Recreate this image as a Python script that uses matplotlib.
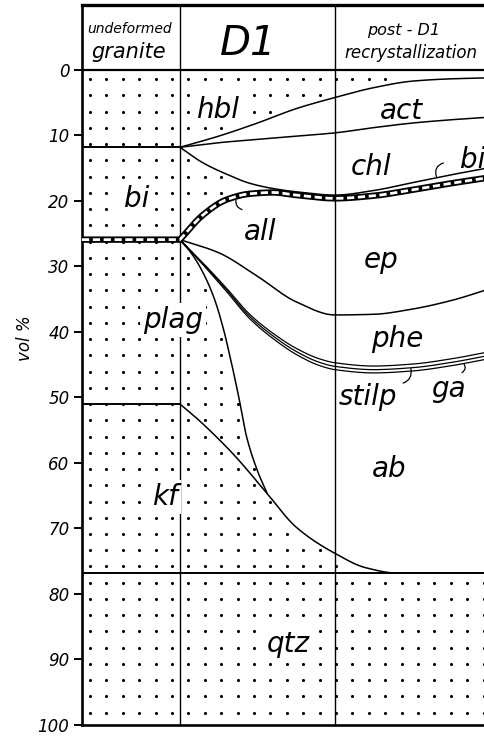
import numpy as np
import matplotlib.pyplot as plt

# granite column: cumulative mineral boundaries (vol %)
granite_bounds = [11.8, 25.9, 51.0, 76.8]

# D1 + post-D1 boundaries, x = stage (0 = end of granite, 1 = end of D1)
s_act = [0, 0.25, 0.5, 0.75, 1.0, 1.25, 1.5, 1.75, 2.0]
act_top = [11.8, 10.1, 8.1, 5.9, 4.2, 2.7, 1.7, 1.35, 1.2]
act_bottom = [11.8, 11.1, 10.6, 10.1, 9.6, 8.8, 8.1, 7.6, 7.2]

s_chl = [0, 0.15, 0.3, 0.45, 0.6, 0.75, 1.0, 1.25, 1.5, 1.75, 2.0]
chl_bottom = [11.8, 14.2, 15.9, 17.3, 18.1, 18.6, 19.1, 18.4, 17.2, 16.0, 14.9]
all_line = [25.9, 22.1, 19.8, 18.9, 18.7, 19.1, 19.6, 19.2, 18.3, 17.3, 16.4]

s_ep = [0, 0.25, 0.5, 0.75, 1.0, 1.25, 1.5, 1.75, 2.0]
ep_bottom = [25.9, 27.9, 31.5, 35.4, 37.4, 37.3, 36.5, 35.2, 33.4]

s_phe = [0, 0.15, 0.3, 0.45, 0.6, 0.75, 0.9, 1.0, 1.25, 1.5, 1.75, 2.0]
phe_bottom = [25.9, 29.5, 33.3, 37.3, 40.2, 42.5, 44.1, 44.7, 45.2, 44.9, 44.1, 43.0]

s_thin = [0, 0.3, 0.6, 1.0, 2.0]
stilp_w = [0, 0.25, 0.4, 0.55, 0.55]
ga_w = [0, 0.25, 0.4, 0.5, 0.5]

s_plag = [0, 0.08, 0.15, 0.22, 0.28, 0.33, 0.38, 0.43, 0.5, 0.56]
plag_edge = [25.9, 28.2, 31.0, 34.8, 39.5, 44.5, 50.0, 56.0, 61.2, 64.5]

s_kf = [0, 0.1, 0.2, 0.35, 0.55, 0.75, 1.0, 1.2, 1.4, 1.7, 2.0]
kf_edge = [51.0, 53.0, 55.2, 58.8, 64.3, 69.8, 73.8, 76.0, 76.8, 76.8, 76.8]

ticks = [0, 10, 20, 30, 40, 50, 60, 70, 80, 90, 100]

X0, X1 = -0.632, 1.968   # left axis / right cut of the figure
TOP = -9.92


def pchip(x, y, xn):
    x = np.asarray(x, float)
    y = np.asarray(y, float)
    h = np.diff(x)
    d = np.diff(y) / h
    m = np.zeros_like(y)
    m[0], m[-1] = d[0], d[-1]
    for k in range(1, len(x) - 1):
        if d[k - 1] * d[k] > 0:
            w1 = 2 * h[k] + h[k - 1]
            w2 = h[k] + 2 * h[k - 1]
            m[k] = (w1 + w2) / (w1 / d[k - 1] + w2 / d[k])
    xn = np.clip(np.asarray(xn, float), x[0], x[-1])
    i = np.clip(np.searchsorted(x, xn) - 1, 0, len(x) - 2)
    t = (xn - x[i]) / h[i]
    h00 = 2 * t**3 - 3 * t**2 + 1
    h10 = t**3 - 2 * t**2 + t
    h01 = -2 * t**3 + 3 * t**2
    h11 = t**3 - t**2
    return h00 * y[i] + h10 * h[i] * m[i] + h01 * y[i + 1] + h11 * h[i] * m[i + 1]


fig = plt.figure(figsize=(4.85, 7.36), dpi=100)
ax = fig.add_axes([82 / 485, 11 / 736, 403 / 485, 720 / 736])
ax.set_xlim(X0, X1)
ax.set_ylim(100, TOP)

FONT = dict(family="DejaVu Sans", style="oblique", color="black")
LW = 1.1

# ---- stipple: minerals of the granite still present ----
gx, gy = np.meshgrid(np.arange(-0.58, X1, 0.1058), np.arange(1.4, 100, 2.48))
gx, gy = gx.ravel(), gy.ravel()
sx = np.clip(gx, 0, 2)
keep = gx < 0
keep |= gy < pchip(s_act, act_top, sx) - 0.5
keep |= (gy > pchip(s_chl, chl_bottom, sx) + 0.6) & (gy < pchip(s_chl, all_line, sx) - 0.9)
plag_y = np.where(sx <= s_plag[-1], pchip(s_plag, plag_edge, sx), 200)
keep |= (gy > granite_bounds[1] + 0.6) & (gy > plag_y + 0.6) & (gy < pchip(s_kf, kf_edge, sx) - 0.6)
keep |= gy > pchip(s_kf, kf_edge, sx) + 0.6
keep &= gx > X0 + 0.04
ax.scatter(gx[keep], gy[keep], s=5, color="black", linewidths=0, zorder=2)

# ---- granite column boundaries ----
for b in (granite_bounds[0], granite_bounds[2]):
    ax.plot([X0, 0], [b, b], color="black", lw=1.4, zorder=4)
ax.plot([X0, X1], [granite_bounds[3], granite_bounds[3]], color="black", lw=1.4, zorder=4)

# ---- curves ----
ss = np.linspace(0, 2, 400)
ax.plot(ss, pchip(s_act, act_top, ss), color="black", lw=LW, zorder=4)
ax.plot(ss, pchip(s_act, act_bottom, ss), color="black", lw=LW, zorder=4)
ax.plot(ss, pchip(s_chl, chl_bottom, ss), color="black", lw=LW, zorder=4)
ax.plot(ss, pchip(s_ep, ep_bottom, ss), color="black", lw=LW, zorder=4)

top3 = pchip(s_phe, phe_bottom, ss)
mid3 = top3 + pchip(s_thin, stilp_w, ss)
bot3 = mid3 + pchip(s_thin, ga_w, ss)
for yy in (top3, mid3, bot3):
    ax.plot(ss, yy, color="black", lw=0.9, zorder=4)

sp = np.linspace(0, s_plag[-1], 200)
ax.plot(sp, pchip(s_plag, plag_edge, sp), color="black", lw=LW, zorder=4)
ax.plot(ss, pchip(s_kf, kf_edge, ss), color="black", lw=LW, zorder=4)

# allanite: dashed double band
ax_all = np.concatenate([[X0], ss])
ay_all = np.concatenate([[granite_bounds[1]], pchip(s_chl, all_line, ss)])
ax.plot(ax_all, ay_all, color="black", lw=4.6, solid_capstyle="butt", zorder=4)
ax.plot(ax_all, ay_all, color="white", lw=2.0, dashes=(2.6, 1.3), zorder=4.5)

# ---- frame ----
ax.axhline(0, color="black", lw=1.6, zorder=4)
ax.plot([0, 0], [TOP, 100], color="black", lw=1.0, zorder=3)
ax.plot([1, 1], [TOP, 100], color="black", lw=1.0, zorder=3)
ax.spines["right"].set_visible(False)
ax.spines["top"].set_linewidth(2.4)
ax.spines["left"].set_linewidth(1.9)
ax.spines["bottom"].set_linewidth(1.9)
ax.set_xticks([])
ax.set_yticks(ticks)
ax.tick_params(axis="y", direction="out", length=6, width=1.4, pad=3, labelsize=12)
for lab in ax.get_yticklabels():
    lab.set_fontstyle("oblique")
ax.text(-0.1414, 0.5375, "vol %", transform=ax.transAxes, rotation=90,
        ha="center", va="center", fontsize=12, **FONT)

# ---- header ----
ax.text(-0.323, -5.6, "undeformed", ha="center", va="baseline", fontsize=10, **FONT)
ax.text(-0.33, -1.9, "granite", ha="center", va="baseline", fontsize=15, **FONT)
ax.text(0.44, -2.3, "D1", ha="center", va="baseline", fontsize=29, **FONT)
ax.text(1.445, -5.3, "post - D1", ha="center", va="baseline", fontsize=11.5, **FONT)
ax.text(1.49, -1.8, "recrystallization", ha="center", va="baseline", fontsize=12, **FONT)

# ---- mineral labels ----
WB = dict(facecolor="white", edgecolor="none", pad=2.5)
ax.text(0.24, 7.3, "hbl", ha="center", va="baseline", fontsize=20, bbox=WB, zorder=3.5, **FONT)
ax.text(1.43, 7.5, "act", ha="center", va="baseline", fontsize=20, zorder=5, **FONT)
ax.text(1.23, 16.0, "chl", ha="center", va="baseline", fontsize=20, zorder=5, **FONT)
ax.text(1.89, 14.9, "bi", ha="center", va="baseline", fontsize=20, zorder=5, **FONT)
ax.text(-0.277, 20.9, "bi", ha="center", va="baseline", fontsize=20, bbox=WB, zorder=3.5, **FONT)
ax.text(0.516, 26.0, "all", ha="center", va="baseline", fontsize=20, zorder=5, **FONT)
ax.text(1.30, 30.2, "ep", ha="center", va="baseline", fontsize=20, zorder=5, **FONT)
ax.text(1.40, 42.3, "phe", ha="center", va="baseline", fontsize=20, zorder=5, **FONT)
ax.text(1.21, 51.1, "stilp", ha="center", va="baseline", fontsize=20, zorder=5, **FONT)
ax.text(1.735, 49.9, "ga", ha="center", va="baseline", fontsize=20, zorder=5, **FONT)
ax.text(-0.045, 39.4, "plag", ha="center", va="baseline", fontsize=20, bbox=WB, zorder=3.5, **FONT)
ax.text(1.35, 62.1, "ab", ha="center", va="baseline", fontsize=20, zorder=5, **FONT)
ax.text(-0.097, 66.4, "kf", ha="center", va="baseline", fontsize=20, bbox=WB, zorder=3.5, **FONT)
ax.text(0.70, 88.9, "qtz", ha="center", va="baseline", fontsize=20, bbox=WB, zorder=3.5, **FONT)

# leaders
LEAD = dict(arrowstyle="-", lw=0.9, color="black", shrinkA=0, shrinkB=0)
ax.annotate("", xy=(0.361, 19.9), xytext=(0.40, 21.3),
            arrowprops=dict(connectionstyle="arc3,rad=-0.4", **LEAD), zorder=5)
ax.annotate("", xy=(1.655, 16.3), xytext=(1.70, 14.2),
            arrowprops=dict(connectionstyle="arc3,rad=0.5", **LEAD), zorder=5)
ax.annotate("", xy=(1.49, 45.6), xytext=(1.44, 47.8),
            arrowprops=dict(connectionstyle="angle3,angleA=20,angleB=100", **LEAD), zorder=5)
ax.annotate("", xy=(1.83, 44.8), xytext=(1.82, 46.2),
            arrowprops=dict(connectionstyle="arc3,rad=0.5", **LEAD), zorder=5)

fig.savefig("out.png", dpi=100)
